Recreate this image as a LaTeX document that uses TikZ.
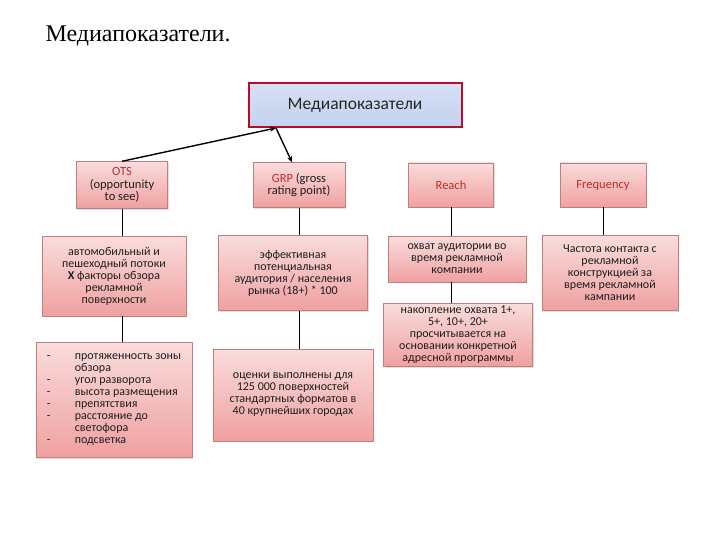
\documentclass[tikz,border=0pt]{standalone}
\usepackage{fontspec}
\setmainfont{Carlito}
\newfontfamily\titlefont{Liberation Serif}
\usetikzlibrary{arrows.meta,shadows}
\definecolor{boxtop}{RGB}{250,220,220}
\definecolor{boxbot}{RGB}{240,160,160}
\definecolor{boxline}{RGB}{195,125,125}
\definecolor{headred}{RGB}{190,45,45}
\definecolor{bluetop}{RGB}{214,224,244}
\definecolor{bluebot}{RGB}{196,210,238}
\definecolor{framered}{RGB}{185,10,40}
\definecolor{txt}{RGB}{30,30,30}
\newcommand{\dashitem}{\makebox[28pt][l]{-}}
\newcommand{\noitem}{\hspace*{28pt}}

\begin{document}
\begin{tikzpicture}[x=1pt,y=-1pt,
  boxsize/.style 2 args={minimum width=#1pt, minimum height=#2pt},
  mbox/.style={draw=boxline, top color=boxtop, bottom color=boxbot,
    text=txt, align=center, inner sep=1pt,
    font=\fontsize{12}{12}\selectfont,
    drop shadow={shadow xshift=1pt, shadow yshift=-1.2pt, opacity=0.25}},
  head/.style={mbox, font=\fontsize{12.5}{12.5}\selectfont},
  conn/.style={draw=black, line width=0.8pt},
  arr/.style={draw=black, line width=1.4pt, -{Stealth[length=6pt,width=5pt]}}]
\useasboundingbox (0,0) rectangle (720,540);

% title
\node[anchor=west, font=\titlefont\fontsize{24}{28}\selectfont] (title) at (42,36) {Медиапоказатели.};

% top box
\node[draw=framered, line width=2pt, top color=bluetop, bottom color=bluebot,
  boxsize={213}{44}, font=\fontsize{17.5}{20}\selectfont, text=black!85] (top) at (355,105) {Медиапоказатели};
\coordinate (hub) at (276,128);

% second row
\node[head, boxsize={91}{47}] (ots) at (122,185) {\textcolor{headred}{OTS}\\(opportunity\\to see)};
\node[head, boxsize={92}{45}] (grp) at (299,185) {\textcolor{headred}{GRP} (gross\\rating point)};
\node[head, boxsize={85}{44}] (reach) at (451,185) {\textcolor{headred}{Reach}};
\node[head, boxsize={86}{44}] (freq) at (603,185) {\textcolor{headred}{Frequency}};

% third row
\node[mbox, boxsize={144}{80}] (otsd) at (114,276) {автомобильный и\\пешеходный потоки\\\textbf{Х} факторы обзора\\рекламной\\поверхности};
\node[mbox, boxsize={149}{75}] (grpd) at (293,273) {эффективная\\потенциальная\\аудитория / населения\\рынка (18+) * 100};
\node[mbox, boxsize={138}{46}] (reachd) at (457,259) {охват аудитории во\\время рекламной\\компании};
\node[mbox, boxsize={136}{75}] (freqd) at (610,273) {Частота контакта с\\рекламной\\конструкцией за\\время рекламной\\кампании};

% fourth row
\node[mbox, boxsize={156}{115}, align=left] (otsl) at (114,400) {\dashitem протяженность зоны\\\noitem обзора\\\dashitem угол разворота\\\dashitem высота размещения\\\dashitem препятствия\\\dashitem расстояние до\\\noitem светофора\\\dashitem подсветка};
\node[mbox, boxsize={160}{92}] (grpl) at (293,395) {оценки выполнены для\\125 000 поверхностей\\стандартных форматов в\\40 крупнейших городах};
\node[mbox, boxsize={149}{63}] (reachl) at (458,335) {накопление охвата 1+,\\5+, 10+, 20+\\просчитывается на\\основании конкретной\\адресной программы};

% connectors
\draw[arr] (ots.north) -- (hub);
\draw[arr] (hub) -- ([xshift=-7pt]grp.north);
\draw[conn] (ots.south) -- (ots.south |- otsd.north);
\draw[conn] (grp.south) -- (grp.south |- grpd.north);
\draw[conn] (reach.south) -- (reach.south |- reachd.north);
\draw[conn] (freq.south) -- (freq.south |- freqd.north);
\draw[conn] (ots.south |- otsd.south) -- (ots.south |- otsl.north);
\draw[conn] (grp.south |- grpd.south) -- (grp.south |- grpl.north);
\draw[conn] (reach.south |- reachd.south) -- (reach.south |- reachl.north);
\end{tikzpicture}
\end{document}
